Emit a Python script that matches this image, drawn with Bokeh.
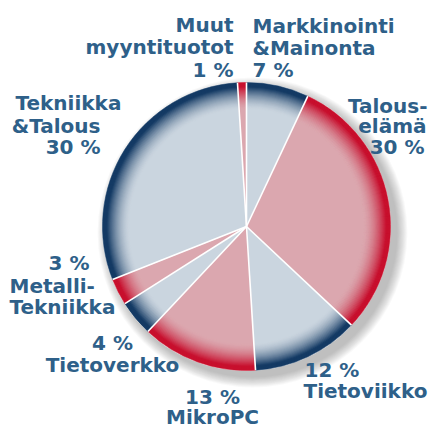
import numpy as np
from bokeh.plotting import figure
from bokeh.models import Range1d, ColumnDataSource
from bokeh.core.properties import value
from bokeh.embed import file_html
from bokeh.resources import INLINE

# ---- data (clockwise from 12 o'clock) ----
categories = ["Markkinointi\n&Mainonta", "Talous-\nelämä", "Tietoviikko", "MikroPC",
              "Tietoverkko", "Metalli-\nTekniikka", "Tekniikka\n&Talous", "Muut\nmyyntituotot"]
shares = [7, 30, 12, 13, 4, 3, 30, 1]
families = ["blue", "red", "blue", "red", "blue", "red", "blue", "red"]

# ---- style ----
LIGHT = {"blue": (202, 213, 223), "red": (219, 167, 175)}
DARK = {"blue": (20, 58, 100), "red": (200, 16, 46)}
TEXT_COLOR = "#2e6089"
CX, CY, R = 246, 202, 144
W, H = 432, 428
TEXT_SHIFT = 8  # svg baseline correction

p = figure(width=W, height=H, x_range=Range1d(0, W), y_range=Range1d(0, H),
           output_backend="svg", toolbar_location=None, min_border=0)
p.axis.visible = False
p.grid.visible = False
p.outline_line_color = None
p.background_fill_color = "white"
p.border_fill_color = "white"

# angles
vals = np.array(shares, dtype=float)
cum = np.concatenate([[0], np.cumsum(vals)]) / vals.sum() * 2 * np.pi
start = np.pi / 2 - cum[:-1]
end = np.pi / 2 - cum[1:]

# soft shadow (lower right)
for k in range(12):
    p.circle(x=[CX + 6], y=[CY - 6], radius=R + 1 + k * 0.9, fill_color="#555555",
             fill_alpha=0.035, line_color=None)
p.circle(x=[CX], y=[CY], radius=R + 0.5, fill_color="white", line_color=None)


def mix(c1, c2, t):
    return "#%02x%02x%02x" % tuple(int(round(a + (b - a) * t)) for a, b in zip(c1, c2))


# radial gradient built from nested wedges (outer = dark, inner = light)
steps = 26
r_in, r_full = 0.815 * R, 0.972 * R
radii = np.linspace(R, r_in, steps)
for r in radii:
    if r >= r_full:
        t = 1.0
    else:
        u = (r - r_in) / (r_full - r_in)
        t = u ** 1.6
    cols = [mix(LIGHT[f], DARK[f], t) for f in families]
    src = ColumnDataSource(dict(x=[CX] * len(vals), y=[CY] * len(vals),
                                s=end, e=start, c=cols))
    p.wedge(x="x", y="y", radius=r, start_angle="s", end_angle="e",
            fill_color="c", line_color="c", line_width=0.6, source=src)

# white separators
p.ray(x=[CX] * len(vals), y=[CY] * len(vals), length=R, angle=list(start),
      line_color="white", line_width=1.6)

# ---- labels ----
pct = [f"{v} %" for v in shares]
names = [c.split("\n") for c in categories]
# (lines, x per line, baselines in image px, alignment per line)
layout = [
    (names[0] + [pct[0]], [252, 252, 252], [33, 55, 77], ["left"] * 3),
    (names[1] + [pct[1]], [427, 426, 424], [113, 133, 154], ["right"] * 3),
    ([pct[2]] + names[2], [304, 303], [377, 398], ["left"] * 2),
    ([pct[3]] + names[3], [212, 212], [404, 424], ["center"] * 2),
    ([pct[4]] + names[4], [112, 112], [350, 372], ["center"] * 2),
    ([pct[5]] + names[5], [89, 9, 9], [270, 293, 314], ["right", "left", "left"]),
    (names[6] + [pct[6]], [15, 100, 100], [110, 133, 154], ["left", "right", "right"]),
    (names[7] + [pct[7]], [233, 233, 233], [32, 54, 77], ["right"] * 3),
]
tx, ty, tt, ta = [], [], [], []
for lines, xs, ys, aligns in layout:
    for ln, x, y, a in zip(lines, xs, ys, aligns):
        tx.append(x)
        ty.append(H - y + TEXT_SHIFT)
        tt.append(ln)
        ta.append(a)
tsrc = ColumnDataSource(dict(x=tx, y=ty, text=tt, align=ta))
p.text(x="x", y="y", text="text", text_align="align", text_baseline="alphabetic",
       text_font=value("DejaVu Sans"), text_font_style="bold", text_font_size="20px",
       text_color=TEXT_COLOR, source=tsrc)

open("out.html", "w").write(file_html(p, INLINE))
